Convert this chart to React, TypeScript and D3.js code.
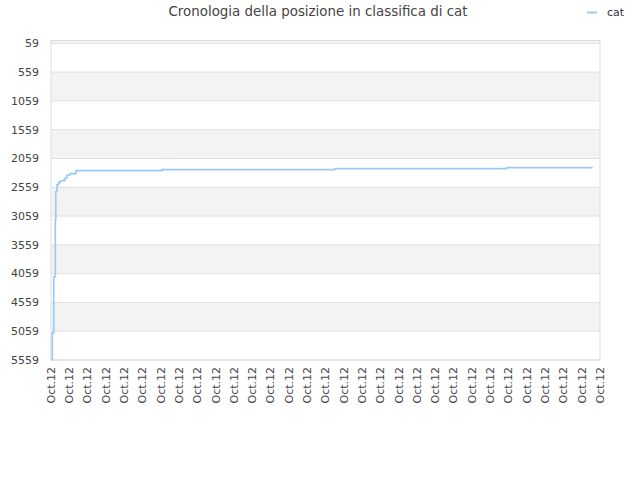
import { useEffect, useRef } from 'react'
import * as d3 from 'd3'

// x is in tick units (31 ticks, all labelled "Oct.12"), y is the rank
const stepX = [0.05, 0.07, 0.15, 0.235, 0.26, 0.33, 0.41, 0.49, 0.71, 0.77, 0.87, 1.04, 1.37, 6.07, 15.5, 24.9, 29.6]
const rankY = [5559, 5089, 4113, 3127, 2636, 2519, 2479, 2450, 2432, 2398, 2346, 2323, 2271, 2253, 2236, 2218, 2218]
const yTicks = [59, 559, 1059, 1559, 2059, 2559, 3059, 3559, 4059, 4559, 5059, 5559]
const xTickLabels = d3.range(31).map(() => 'Oct.12')
const seriesName = 'cat'
const title = 'Cronologia della posizione in classifica di cat'

export default function App() {
  const svgRef = useRef<SVGSVGElement>(null)

  useEffect(() => {
    document.body.style.margin = '0'
    if (!svgRef.current) return

    const left = 51, right = 600, top = 40.5, bottom = 360
    const font = '"DejaVu Sans", sans-serif'

    d3.select(svgRef.current).selectAll('*').remove()
    const svg = d3.select(svgRef.current)

    const x = d3.scaleLinear().domain([0, xTickLabels.length - 1]).range([left, right])
    const y = d3.scaleLinear().domain([59, 5559]).range([43.3, bottom])

    // alternating bands
    svg.append('rect')
      .attr('x', left).attr('y', top)
      .attr('width', right - left).attr('height', y(59) - top)
      .attr('fill', '#f3f3f3')
    svg.selectAll('.band')
      .data(yTicks.slice(0, -1))
      .join('rect')
      .attr('class', 'band')
      .attr('x', left)
      .attr('y', d => y(d))
      .attr('width', right - left)
      .attr('height', d => y(d + 500) - y(d))
      .attr('fill', (_, i) => (i % 2 === 1 ? '#f3f3f3' : '#ffffff'))

    // grid lines
    svg.selectAll('.grid')
      .data(yTicks)
      .join('line')
      .attr('class', 'grid')
      .attr('x1', left).attr('x2', right)
      .attr('y1', d => y(d)).attr('y2', d => y(d))
      .attr('stroke', '#e0e0e0')
      .attr('stroke-width', 1)

    // frame
    svg.append('rect')
      .attr('x', left).attr('y', top)
      .attr('width', right - left).attr('height', bottom - top)
      .attr('fill', 'none')
      .attr('stroke', '#dddddd')

    // y labels
    svg.selectAll('.ylab')
      .data(yTicks)
      .join('text')
      .attr('class', 'ylab')
      .attr('x', 39)
      .attr('y', d => y(d))
      .attr('dy', '0.35em')
      .attr('text-anchor', 'end')
      .attr('font-family', font)
      .attr('font-size', '11px')
      .attr('fill', '#444')
      .text(d => d)

    // x labels
    svg.selectAll('.xlab')
      .data(xTickLabels)
      .join('text')
      .attr('class', 'xlab')
      .attr('transform', (_, i) => `translate(${x(i)},367) rotate(-90)`)
      .attr('dy', '0.35em')
      .attr('text-anchor', 'end')
      .attr('font-family', font)
      .attr('font-size', '11px')
      .attr('fill', '#444')
      .text(d => d)

    // series
    const pts = stepX.map((v, i) => [v, rankY[i]] as [number, number])
    const line = d3.line<[number, number]>()
      .x(d => x(d[0]))
      .y(d => y(d[1]))
      .curve(d3.curveStepAfter)
    svg.append('path')
      .datum(pts)
      .attr('d', line)
      .attr('fill', 'none')
      .attr('stroke', '#9ccaf5')
      .attr('stroke-width', 1.7)

    // title
    svg.append('text')
      .attr('x', 318).attr('y', 16)
      .attr('text-anchor', 'middle')
      .attr('font-family', font)
      .attr('font-size', '13.4px')
      .attr('fill', '#444')
      .text(title)

    // legend
    svg.append('line')
      .attr('x1', 587).attr('x2', 597)
      .attr('y1', 12.5).attr('y2', 12.5)
      .attr('stroke', '#9ccaf5')
      .attr('stroke-width', 2)
    svg.append('text')
      .attr('x', 607).attr('y', 12)
      .attr('dy', '0.35em')
      .attr('font-family', font)
      .attr('font-size', '11px')
      .attr('fill', '#333')
      .text(seriesName)
  }, [])

  return <svg ref={svgRef} width={640} height={480} style={{ display: 'block', background: '#fff' }} />
}
